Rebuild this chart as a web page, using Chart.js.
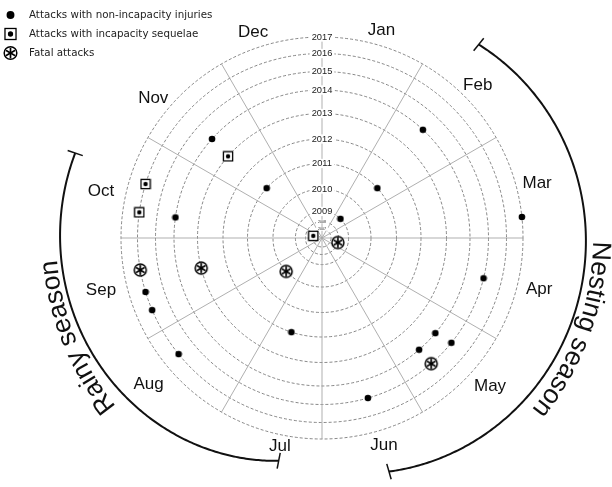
<!DOCTYPE html>
<html>
<head>
<meta charset="utf-8">
<script src="https://cdn.jsdelivr.net/npm/chart.js@4.4.1/dist/chart.umd.min.js"></script>
<style>
  html, body { margin: 0; padding: 0; background: #fff; }
  #wrap { width: 612px; height: 487px; }
</style>
</head>
<body>
<div id="wrap"><canvas id="c" width="612" height="487"></canvas></div>
<script>
// Months around the wheel (clockwise from the top)
const months = ['Jan', 'Feb', 'Mar', 'Apr', 'May', 'Jun', 'Jul', 'Aug', 'Sep', 'Oct', 'Nov', 'Dec'];
// Year rings, innermost first
const years = [2007, 2008, 2009, 2010, 2011, 2012, 2013, 2014, 2015, 2016, 2017];
// Radial position of each year ring on the r axis (outer ring = axis max)
const yearRingAt = [9, 16.5, 26.6, 49, 74.5, 99, 124.5, 148, 166.5, 184.5, 201];

// Attacks with non-incapacity injuries
const injuryMonth = [2, 2, 2, 3, 4, 5, 5, 5, 6, 11, 11, 10, 9, 9, 8, 7];
const injuryDay   = [15, 19, 14, 25, 15, 11, 10, 20, 15, 13, 13, 9, 14, 8, 22, 19];
const injuryYear  = [2009, 2011, 2014, 2017, 2015, 2014, 2015, 2014, 2015, 2014, 2011, 2014, 2016, 2016, 2016, 2012];

// Attacks with incapacity sequelae
const sequelaMonth = [10, 11, 10, 10];
const sequelaDay   = [15, 12, 18, 9];
const sequelaYear  = [2007, 2013, 2016, 2016];

// Fatal attacks
const fatalMonth = [5, 4, 9, 9, 8];
const fatalDay   = [20, 17, 21, 17, 18];
const fatalYear  = [2015, 2008, 2016, 2013, 2010];

const seriesNames = ['Attacks with non-incapacity injuries', 'Attacks with incapacity sequelae', 'Fatal attacks'];

// Month caption placement: angle (deg, clockwise from top) and distance from the centre
const monthLabelAngle = [16, 45.6, 75.7, 103.2, 131.4, 163.3, 191.4, 229.8, 256.8, 282, 309.6, 341.5];
const monthLabelDist  = [216, 218, 222, 223, 224, 216, 213, 227, 227, 226, 219, 217];

// Seasons drawn as arcs outside the wheel
const seasons = [
  { name: 'Nesting season', from: 39, to: 164, radii: [[39, 249], [100, 264], [164, 243]], textAt: 110, textR: 271 },
  { name: 'Rainy season',   from: 191, to: 289, radii: [[191, 227], [250, 259], [289, 261]], textAt: 248, textR: 266 }
];

// Wheel geometry on the canvas
const wheel = { cx: 322, cy: 238, radius: 201 };

// 30 angular slots per month, so month boundaries fall on 30-degree spokes
const SLOTS_PER_MONTH = 30;
const slotLabels = [];
months.forEach(m => { for (let d = 1; d <= SLOTS_PER_MONTH; d++) slotLabels.push(m + ' ' + d); });

function slotOf(month, day) {
  return (month - 1) * SLOTS_PER_MONTH + Math.min(day, SLOTS_PER_MONTH) - 1;
}

// Spread points into layers so two attacks on the same date never share one slot
function buildLayers(ms, ds, ys) {
  const layers = [];
  ms.forEach((m, i) => {
    const slot = slotOf(m, ds[i]);
    const r = yearRingAt[years.indexOf(ys[i])];
    let layer = layers.find(l => l[slot] === null);
    if (!layer) { layer = new Array(slotLabels.length).fill(null); layers.push(layer); }
    layer[slot] = r;
  });
  return layers;
}

// Marker symbols
function drawSymbol(g, kind, x, y, k) {
  k = k || 1;
  g.save();
  g.strokeStyle = '#000';
  g.fillStyle = '#000';
  if (kind === 'dot') {
    g.beginPath(); g.arc(x, y, 3.3 * k, 0, Math.PI * 2); g.fill();
  } else if (kind === 'square') {
    const h = 4.6 * k;
    g.fillStyle = '#fff';
    g.fillRect(x - h, y - h, 2 * h, 2 * h);
    g.lineWidth = 1.3;
    g.strokeRect(x - h, y - h, 2 * h, 2 * h);
    g.fillStyle = '#000';
    g.beginPath(); g.arc(x, y, 2.2 * k, 0, Math.PI * 2); g.fill();
  } else {
    g.fillStyle = '#fff';
    g.beginPath(); g.arc(x, y, 6 * k, 0, Math.PI * 2); g.fill();
    g.lineWidth = 1.5;
    g.stroke();
    g.lineWidth = 1.7;
    g.lineCap = 'round';
    for (let s = 0; s < 3; s++) {
      const a = s * Math.PI / 3;
      const r = 4.3 * k;
      g.beginPath();
      g.moveTo(x + r * Math.sin(a), y - r * Math.cos(a));
      g.lineTo(x - r * Math.sin(a), y + r * Math.cos(a));
      g.stroke();
    }
  }
  g.restore();
}

function symbolCanvas(kind) {
  const c = document.createElement('canvas');
  const s = kind === 'fatal' ? 16 : (kind === 'square' ? 12 : 8);
  c.width = s; c.height = s;
  drawSymbol(c.getContext('2d'), kind, s / 2, s / 2);
  return c;
}

const kinds = ['dot', 'square', 'fatal'];
const seriesData = [
  buildLayers(injuryMonth, injuryDay, injuryYear),
  buildLayers(sequelaMonth, sequelaDay, sequelaYear),
  buildLayers(fatalMonth, fatalDay, fatalYear)
];

const datasets = [];
seriesData.forEach((layers, si) => {
  const img = symbolCanvas(kinds[si]);
  layers.forEach(layer => {
    datasets.push({
      label: seriesNames[si],
      data: layer,
      showLine: false,
      fill: false,
      borderWidth: 0,
      backgroundColor: 'rgba(0,0,0,0)',
      pointStyle: img,
      pointRadius: 6,
      pointHoverRadius: 6,
      pointBorderWidth: 0
    });
  });
});

function lagrange(pts, x) {
  let y = 0;
  for (let i = 0; i < pts.length; i++) {
    let t = pts[i][1];
    for (let j = 0; j < pts.length; j++) {
      if (j !== i) t *= (x - pts[j][0]) / (pts[i][0] - pts[j][0]);
    }
    y += t;
  }
  return y;
}

function polarXY(scale, deg, r) {
  const a = deg * Math.PI / 180;
  return [scale.xCenter + r * Math.sin(a), scale.yCenter - r * Math.cos(a)];
}

// Month names outside the outer ring
const monthLabelPlugin = {
  id: 'monthLabels',
  afterDraw(chart) {
    const s = chart.scales.r;
    const ctx = chart.ctx;
    ctx.save();
    ctx.font = '17px "Liberation Sans", Arial, sans-serif';
    ctx.fillStyle = '#111';
    ctx.textAlign = 'center';
    ctx.textBaseline = 'middle';
    months.forEach((m, i) => {
      const [x, y] = polarXY(s, monthLabelAngle[i], monthLabelDist[i]);
      ctx.fillText(m, x, y);
    });
    ctx.restore();
  }
};

// Season arcs with curved captions
const seasonPlugin = {
  id: 'seasons',
  afterDraw(chart) {
    const s = chart.scales.r;
    const ctx = chart.ctx;
    const cx = s.xCenter, cy = s.yCenter;
    ctx.save();
    ctx.strokeStyle = '#111';
    ctx.fillStyle = '#111';
    seasons.forEach(season => {
      ctx.lineWidth = 2;
      ctx.beginPath();
      for (let deg = season.from; deg <= season.to; deg += 0.5) {
        const [x, y] = polarXY(s, deg, lagrange(season.radii, deg));
        if (deg === season.from) ctx.moveTo(x, y); else ctx.lineTo(x, y);
      }
      ctx.stroke();
      // end ticks
      ctx.lineWidth = 1.5;
      [season.from, season.to].forEach(deg => {
        const r = lagrange(season.radii, deg);
        const [x1, y1] = polarXY(s, deg, r - 8);
        const [x2, y2] = polarXY(s, deg, r + 8);
        ctx.beginPath(); ctx.moveTo(x1, y1); ctx.lineTo(x2, y2); ctx.stroke();
      });
      // caption along the arc, letters upright pointing outward
      ctx.font = '26.5px "Liberation Sans", Arial, sans-serif';
      ctx.textAlign = 'center';
      ctx.textBaseline = 'alphabetic';
      const R = season.textR;
      const total = ctx.measureText(season.name).width;
      let a = season.textAt * Math.PI / 180 - total / 2 / R;
      for (const ch of season.name) {
        const w = ctx.measureText(ch).width;
        const ac = a + w / 2 / R;
        ctx.save();
        ctx.translate(cx + R * Math.sin(ac), cy - R * Math.cos(ac));
        ctx.rotate(ac);
        ctx.fillText(ch, 0, 0);
        ctx.restore();
        a += w / R;
      }
    });
    ctx.restore();
  }
};

// Legend in the top-left corner
const legendPlugin = {
  id: 'cornerLegend',
  afterDraw(chart) {
    const ctx = chart.ctx;
    ctx.save();
    ctx.font = '10.3px "DejaVu Sans", Verdana, sans-serif';
    ctx.textAlign = 'left';
    ctx.textBaseline = 'middle';
    seriesNames.forEach((name, i) => {
      const y = 15 + i * 19;
      drawSymbol(ctx, kinds[i], 10.5, y, kinds[i] === 'fatal' ? 1.05 : 1.2);
      ctx.fillStyle = '#222';
      ctx.fillText(name, 29, y);
    });
    ctx.restore();
  }
};

new Chart(document.getElementById('c'), {
  type: 'radar',
  data: { labels: slotLabels, datasets },
  plugins: [monthLabelPlugin, seasonPlugin, legendPlugin],
  options: {
    responsive: false,
    animation: false,
    events: [],
    layout: { padding: 0 },
    plugins: { legend: { display: false }, tooltip: { enabled: false } },
    elements: { line: { borderWidth: 0, tension: 0 } },
    scales: {
      r: {
        min: 0,
        max: yearRingAt[yearRingAt.length - 1],
        startAngle: 0,
        afterBuildTicks: scale => {
          scale.ticks = [0].concat(yearRingAt).map(v => ({ value: v }));
        },
        afterFit: scale => {
          scale.xCenter = scale.left + wheel.cx;
          scale.yCenter = scale.top + wheel.cy;
          scale.drawingArea = wheel.radius;
        },
        grid: { circular: true, color: '#6a6a6a', lineWidth: 0.8 },
        border: { dash: [3, 2] },
        angleLines: {
          display: true,
          color: '#a6a6a6',
          lineWidth: ctx => (ctx.index % SLOTS_PER_MONTH === 0 ? 0.9 : 0)
        },
        pointLabels: { display: false },
        ticks: {
          display: true,
          callback: (value, index) => (index === 0 ? '' : String(years[index - 1])),
          font: ctx => ({ family: '"Liberation Sans", Arial, sans-serif', size: ctx.index <= 2 ? 3.6 : 9.3 }),
          color: '#222',
          showLabelBackdrop: true,
          backdropColor: '#fff',
          backdropPadding: { x: 2, y: 0 }
        }
      }
    }
  }
});
</script>
</body>
</html>
